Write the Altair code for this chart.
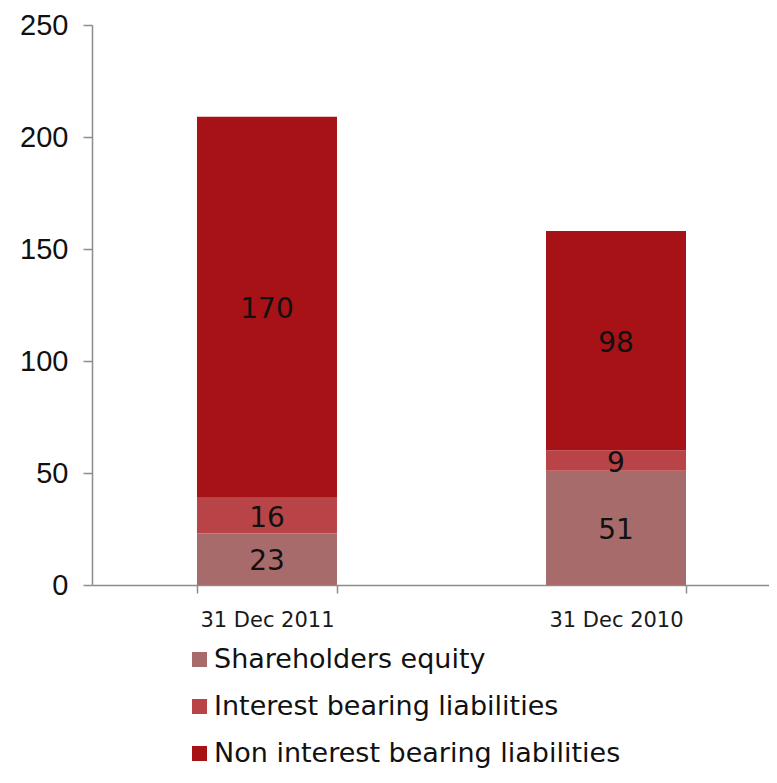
import altair as alt
import pandas as pd

dates = ["31 Dec 2011", "31 Dec 2010"]
series = ["Shareholders equity", "Interest bearing liabilities", "Non interest bearing liabilities"]
equity = [23, 51]
interest = [16, 9]
non_interest = [170, 98]
y_ticks = [0, 50, 100, 150, 200, 250]
colors = ["#A86B6B", "#B94448", "#A61216"]

rows = []
for i, d in enumerate(dates):
    for j, (s, vals) in enumerate(zip(series, [equity, interest, non_interest])):
        rows.append({"date": d, "series": s, "value": vals[i], "order": j})
df = pd.DataFrame(rows)

W = 677
H = 560
FONT = "DejaVu Sans"
AX = "#8c8c8c"

x = alt.X(
    "date:N", sort=dates, title=None,
    scale=alt.Scale(paddingInner=0.5989, paddingOuter=0.2693, align=0.5585),
    axis=alt.Axis(labelAngle=0, labelFont=FONT, labelFontSize=21, labelColor="#1a1a1a",
                  tickBand="extent", tickSize=8, tickColor=AX, domainColor=AX,
                  domainWidth=1.5, tickWidth=1.5, labelPadding=16),
)

base = alt.Chart(df)

bars = base.mark_bar(size=140).encode(
    x=x,
    y=alt.Y("value:Q", stack="zero", title=None,
            scale=alt.Scale(domain=[0, 250], nice=False),
            axis=alt.Axis(values=y_ticks, grid=False,
                          labelFont="Liberation Sans", labelFontSize=29, labelColor="#111",
                          tickSize=9, tickColor=AX, domainColor=AX,
                          domainWidth=1.5, tickWidth=1.5, labelPadding=15)),
    color=alt.Color("series:N", sort=series,
                    scale=alt.Scale(domain=series, range=colors),
                    legend=alt.Legend(title=None, orient="none", legendX=94, legendY=621,
                                      direction="vertical", symbolType="square", symbolSize=225,
                                      symbolStrokeWidth=0, labelFont=FONT, labelFontSize=27,
                                      labelColor="#111", rowPadding=19, labelLimit=700,
                                      labelOffset=1, padding=0)),
    order=alt.Order("order:Q"),
)

labels = base.transform_stack(
    stack="value", as_=["y0", "y1"], groupby=["date"], sort=[alt.SortField("order")]
).transform_calculate(
    mid="(datum.y0 + datum.y1) / 2"
).mark_text(font=FONT, fontSize=28, color="#111", baseline="middle", dy=3).encode(
    x=alt.X("date:N", sort=dates),
    y=alt.Y("mid:Q"),
    text=alt.Text("value:Q"),
)

chart = alt.layer(bars, labels).properties(
    width=W, height=H,
    autosize=alt.AutoSizeParams(type="none"),
    padding={"left": 84, "top": 17, "right": 0, "bottom": 190},
).configure_view(stroke=None)

chart.save("out.html", embed_options={"renderer": "svg", "actions": False})
